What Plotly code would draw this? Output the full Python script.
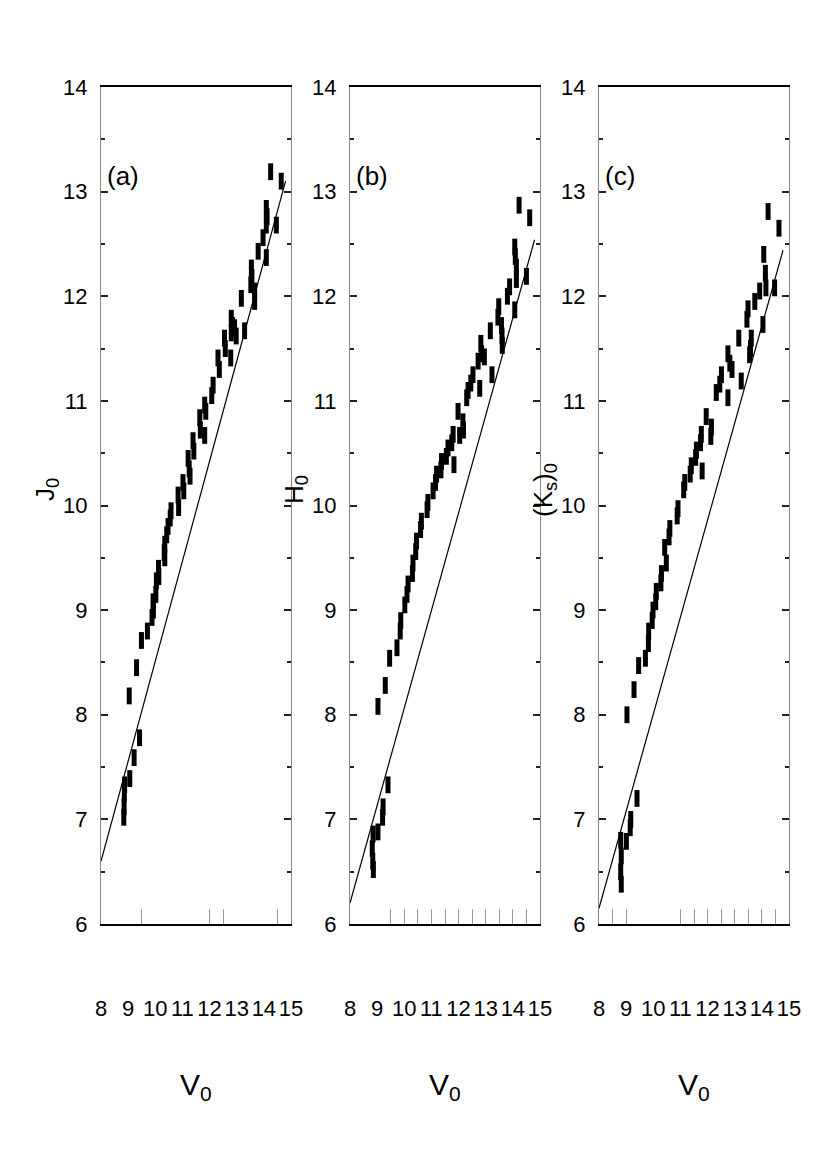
import plotly.graph_objects as go

# ---------------------------------------------------------------------------
# Data (V0 against J0, H0, (Ks)0)
# ---------------------------------------------------------------------------
v0_a = [14.25, 14.64, 14.09, 14.12, 14.09, 14.46, 13.97, 13.79, 14.09, 13.54,
        13.56, 13.52, 13.66, 13.66, 13.17, 12.80, 12.85, 12.80, 12.92, 12.98,
        13.29, 12.78, 12.55, 12.58, 12.31, 12.36, 12.13, 12.08, 11.82, 11.86,
        11.64, 11.66, 11.82, 11.39, 11.42, 11.21, 11.25, 11.28, 11.02, 11.05,
        10.84, 10.86, 10.58, 10.55, 10.47, 10.42, 10.35, 10.33, 10.35, 10.12,
        10.13, 10.04, 10.02, 9.92, 9.93, 9.88, 9.71, 9.49, 9.31, 9.04,
        9.42, 9.22, 9.06, 8.87, 8.86, 8.85, 8.84]
j0 = [13.19, 13.10, 12.84, 12.76, 12.68, 12.68, 12.56, 12.43, 12.37, 12.27,
      12.18, 12.11, 12.05, 11.95, 11.98, 11.79, 11.72, 11.65, 11.70, 11.62,
      11.67, 11.41, 11.60, 11.50, 11.41, 11.30, 11.15, 11.05, 10.96, 10.90,
      10.84, 10.72, 10.67, 10.62, 10.52, 10.45, 10.35, 10.28, 10.22, 10.14,
      10.10, 9.98, 9.95, 9.88, 9.80, 9.72, 9.63, 9.55, 9.50, 9.40,
      9.32, 9.28, 9.15, 9.08, 9.00, 8.93, 8.80, 8.71, 8.45, 8.18,
      7.78, 7.59, 7.39, 7.33, 7.25, 7.12, 7.02]

v0_b = [14.23, 14.62, 14.07, 14.09, 14.13, 14.13, 14.50, 13.88, 13.80, 14.07,
        13.48, 13.45, 13.58, 13.60, 13.17, 13.61, 12.82, 12.85, 12.72, 12.95,
        13.23, 12.78, 12.53, 12.45, 12.35, 12.30, 11.98, 12.16, 12.18, 12.04,
        11.80, 11.75, 11.61, 11.55, 11.83, 11.37, 11.35, 11.19, 11.15, 11.06,
        10.87, 10.84, 10.63, 10.60, 10.45, 10.42, 10.32, 10.30, 10.14, 10.10,
        10.02, 9.87, 9.85, 9.73, 9.46, 9.30, 9.03, 9.40, 9.22, 9.20,
        9.03, 8.85, 8.82, 8.84, 8.86]
h0 = [12.87, 12.75, 12.47, 12.38, 12.28, 12.16, 12.19, 12.09, 12.00, 11.87,
      11.90, 11.80, 11.72, 11.62, 11.67, 11.53, 11.55, 11.45, 11.38, 11.42,
      11.25, 11.12, 11.25, 11.17, 11.10, 11.03, 10.90, 10.80, 10.72, 10.67,
      10.68, 10.60, 10.55, 10.47, 10.39, 10.42, 10.34, 10.30, 10.22, 10.14,
      10.03, 9.96, 9.85, 9.77, 9.66, 9.56, 9.45, 9.35, 9.25, 9.15,
      9.05, 8.90, 8.80, 8.64, 8.54, 8.28, 8.08, 7.33, 7.12, 7.02,
      6.88, 6.86, 6.72, 6.60, 6.52]

v0_c = [14.23, 14.63, 14.07, 14.13, 14.15, 14.47, 13.92, 13.74, 13.49, 13.45,
        14.04, 13.15, 13.61, 13.58, 13.55, 12.75, 12.82, 12.90, 13.24, 12.51,
        12.45, 12.75, 12.32, 11.95, 12.14, 12.12, 11.77, 11.74, 11.59, 11.56,
        11.80, 11.40, 11.36, 11.16, 11.12, 10.91, 10.88, 10.61, 10.58, 10.42,
        10.48, 10.30, 10.28, 10.11, 10.09, 9.99, 9.96, 9.83, 9.82, 9.71,
        9.46, 9.29, 9.03, 9.40, 9.17, 9.15, 9.01, 8.80, 8.82, 8.80, 8.82]
ks0 = [12.81, 12.65, 12.40, 12.22, 12.08, 12.08, 12.05, 11.95, 11.88, 11.78,
       11.73, 11.60, 11.60, 11.50, 11.44, 11.45, 11.36, 11.30, 11.19, 11.25,
       11.16, 11.03, 11.08, 10.85, 10.75, 10.66, 10.68, 10.60, 10.53, 10.46,
       10.33, 10.38, 10.30, 10.22, 10.15, 9.97, 9.90, 9.78, 9.70, 9.60,
       9.45, 9.35, 9.26, 9.18, 9.08, 9.00, 8.90, 8.80, 8.68, 8.54,
       8.47, 8.24, 8.00, 7.20, 7.00, 6.92, 6.79, 6.80, 6.65, 6.50, 6.38]

# reference relations drawn as straight lines (end points)
line_v0_a = [8.0, 14.8]
line_j0 = [6.60, 13.10]
line_v0_b = [8.0, 14.8]
line_h0 = [6.20, 12.54]
line_v0_c = [8.0, 14.78]
line_ks0 = [6.15, 12.44]

x_ticklabels = [8, 9, 10, 11, 12, 13, 14, 15]
y_ticklabels = [6, 7, 8, 9, 10, 11, 12, 13, 14]
y_minor = [6.5, 7.5, 8.5, 9.5, 10.5, 11.5, 12.5, 13.5]
# x tick marks actually drawn in each panel (irregular in the original)
x_marks_a = [9.5, 12, 12.5, 14.5]
x_marks_b = [9.5, 10, 10.5, 11, 11.5, 12, 12.5, 13, 13.5, 14, 14.5]
x_marks_c = [8.5, 9, 11, 11.5, 12, 12.5, 13, 13.5, 14, 14.5]

panels = [
    ("(a)", "J<sub>0</sub>", v0_a, j0, line_v0_a, line_j0, x_marks_a),
    ("(b)", "H<sub>0</sub>", v0_b, h0, line_v0_b, line_h0, x_marks_b),
    ("(c)", "(K<sub>s</sub>)<sub>0</sub>", v0_c, ks0, line_v0_c, line_ks0, x_marks_c),
]

W, H = 827, 1170
FONT = "Liberation Sans Narrow, Arial Narrow, Liberation Sans, Arial"
x_left_px = [93, 342, 591]
panel_w = 190
y_top_px, y_bot_px = 79, 916
ydom = [1 - y_bot_px / H, 1 - y_top_px / H]

fig = go.Figure()
for i, (tag, ytitle, xs, ys, lx, ly, marks) in enumerate(panels):
    n = "" if i == 0 else str(i + 1)
    xa, ya = "x" + n, "y" + n

    fig.add_trace(go.Scatter(
        x=lx, y=ly, mode="lines", xaxis=xa, yaxis=ya,
        line=dict(color="black", width=1.2), showlegend=False,
    ))
    fig.add_trace(go.Scatter(
        x=xs, y=ys, mode="markers", xaxis=xa, yaxis=ya,
        marker=dict(symbol="line-ns", size=12, color="black",
                    line=dict(color="black", width=5)),
        showlegend=False,
    ))

    x0 = x_left_px[i] / W
    x1 = (x_left_px[i] + panel_w) / W
    fig.layout["xaxis" + n] = dict(
        domain=[x0, x1], range=[8, 15], anchor=ya, automargin=False,
        tickvals=x_ticklabels, ticks="", ticklabelstandoff=64, tickangle=0,
        tickfont=dict(family=FONT, size=22, color="black"),
        showline=True, linecolor="black", linewidth=2, mirror=True,
        showgrid=False, zeroline=False,
        minor=dict(tickvals=marks, ticks="inside", ticklen=15,
                   tickcolor="#9a9a9a", tickwidth=1.2, showgrid=False),
    )
    fig.layout["yaxis" + n] = dict(
        domain=ydom, range=[6, 14], anchor=xa, automargin=False,
        tickvals=y_ticklabels, ticks="inside", ticklen=7, tickwidth=1.5,
        tickcolor="#222", ticklabelstandoff=8,
        tickfont=dict(family=FONT, size=22, color="black"),
        showline=True, linecolor="#888", linewidth=1, mirror="ticks",
        showgrid=False, zeroline=False,
        minor=dict(tickvals=y_minor, ticks="inside", ticklen=4,
                   tickcolor="#222", tickwidth=1.5, showgrid=False),
    )

    fig.add_annotation(
        text=tag, xref=xa + " domain", yref=ya, x=0.02, y=13.15,
        xanchor="left", yanchor="middle", showarrow=False,
        font=dict(family=FONT, size=26, color="black"),
    )
    fig.add_annotation(
        text="V<sub>0</sub>", xref="paper", yref="paper",
        x=(x0 + x1) / 2, y=1 - 1078 / H, xanchor="center", yanchor="middle",
        showarrow=False, font=dict(family=FONT, size=30, color="black"),
    )
    fig.add_annotation(
        text=ytitle, xref="paper", yref="paper", textangle=-90,
        x=(x_left_px[i] - 55) / W, y=1 - 482 / H,
        xanchor="center", yanchor="middle", showarrow=False,
        font=dict(family=FONT, size=26, color="black"),
    )

fig.update_layout(
    width=W, height=H,
    margin=dict(l=0, r=0, t=0, b=0),
    paper_bgcolor="white", plot_bgcolor="white",
    showlegend=False,
)

fig.write_html("out.html")
